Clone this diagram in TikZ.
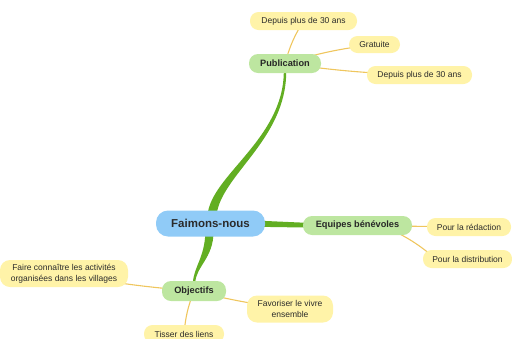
\documentclass[tikz,border=0pt]{standalone}
\usepackage{fontspec}
\setmainfont{Liberation Sans}
\usetikzlibrary{calc}
\definecolor{cblue}{HTML}{90CBF7}
\definecolor{cgreen}{HTML}{BDE6A0}
\definecolor{cleaf}{HTML}{FFF3A8}
\definecolor{cbranch}{HTML}{62AE22}
\definecolor{cline}{HTML}{EFC65E}
\definecolor{ctext}{HTML}{2B2B2B}
\tikzset{
  root/.style={fill=cblue, rounded corners=12pt, minimum height=26pt, inner sep=0pt,
    font=\fontsize{11.5}{13}\selectfont\bfseries, text=ctext},
  topic/.style={fill=cgreen, rounded corners=9pt, minimum height=19pt, inner sep=0pt,
    font=\fontsize{9.2}{11}\selectfont\bfseries, text=black!85},
  leaf/.style={fill=cleaf, rounded corners=8.5pt, minimum height=18pt, inner sep=0pt,
    font=\fontsize{8.5}{10.5}\selectfont, text=ctext, align=center},
  leafline/.style={draw=cline, line width=1.1pt},
  branch/.style={fill=cbranch}
}
\begin{document}
\begin{tikzpicture}[x=1pt,y=-1pt]
\useasboundingbox (0,0) rectangle (512,338);
\clip (0,0) rectangle (512,338);
% node positions
\coordinate (pfn) at (210.5,223.5);
\coordinate (ppub) at (285,63.5);
\coordinate (peq) at (357.5,225.5);
\coordinate (pobj) at (194,291);
% main branches (tapered)
\fill[branch] ($(pfn)+(-3,-8)$) .. controls ($(pfn)+(0,-48)$) and ($(ppub)+(-1.5,76)$) .. ($(ppub)+(-1.2,8)$)
  -- ($(ppub)+(1.2,8)$) .. controls ($(ppub)+(1.5,76)$) and ($(pfn)+(10,-48)$) .. ($(pfn)+(6,-8)$) -- cycle;
\fill[branch] ($(pfn)+(40,-3.2)$) -- ($(peq)+(-40,-2.2)$) -- ($(peq)+(-40,2.2)$) -- ($(pfn)+(40,3.2)$) -- cycle;
\fill[branch] ($(pfn)+(-5,8)$) .. controls ($(pfn)+(-6,35)$) and ($(pobj)+(0,-25)$) .. ($(pobj)+(-1.2,-8)$)
  -- ($(pobj)+(1.2,-8)$) .. controls ($(pobj)+(2,-25)$) and ($(pfn)+(3,35)$) .. ($(pfn)+(3,8)$) -- cycle;
% leaf connectors
\coordinate (eqse) at (398,233);
\draw[leafline] (ppub) to[bend left=8] (303.5,21) coordinate (pdepA);
\draw[leafline] (ppub) to[bend left=5] (374.5,44.5) coordinate (pgrat);
\draw[leafline] (ppub) to[bend right=3] (419.5,75) coordinate (pdepB);
\draw[leafline] (peq) -- (469,227) coordinate (pred);
\draw[leafline] (eqse) to[bend left=5] (430,254) coordinate (pdistw);
\draw[leafline] (pobj) to[bend left=3] (64,273.5) coordinate (pfaire);
\draw[leafline] (pobj) to[bend right=3] (290,309) coordinate (pfav);
\draw[leafline] (pobj) to[bend right=8] (184,334) coordinate (ptis);
% nodes
\node[root, minimum width=109pt] (fn) at (pfn) {Faimons-nous};
\node[topic, minimum width=72pt] (pub) at (ppub) {Publication};
\node[topic, minimum width=109pt] (eq) at (peq) {Equipes bénévoles};
\node[topic, minimum width=64pt, minimum height=20pt] (obj) at (pobj) {Objectifs};
\node[leaf, minimum width=107pt] (depA) at (pdepA) {Depuis plus de 30 ans};
\node[leaf, minimum width=51pt, minimum height=17pt] (grat) at (pgrat) {Gratuite};
\node[leaf, minimum width=105pt] (depB) at (pdepB) {Depuis plus de 30 ans};
\node[leaf, minimum width=84pt] (red) at (pred) {Pour la rédaction};
\node[leaf, minimum width=89pt] (dist) at (467.5,259) {Pour la distribution};
\node[leaf, minimum width=128pt, minimum height=27pt, rounded corners=10pt] (faire) at (pfaire) {Faire connaître les activités\\organisées dans les villages};
\node[leaf, minimum width=86pt, minimum height=27pt, rounded corners=10pt] (fav) at (pfav) {Favoriser le vivre\\ensemble};
\node[leaf, minimum width=80pt] (tis) at (ptis) {Tisser des liens};
\end{tikzpicture}
\end{document}
